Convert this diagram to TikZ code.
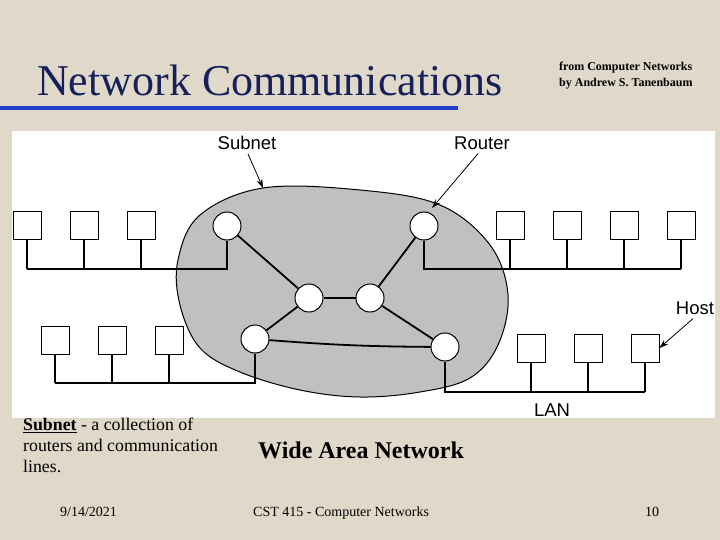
\documentclass[tikz,border=0pt]{standalone}
\usepackage{fontspec}
\setmainfont{Liberation Serif}
\newfontfamily\figfont{Liberation Sans}
\usetikzlibrary{arrows.meta}
\definecolor{slidebg}{RGB}{224,216,201}
\definecolor{titleblue}{RGB}{22,32,90}
\definecolor{ruleblue}{RGB}{32,64,204}
\definecolor{blobgray}{RGB}{192,192,192}
\tikzset{
  host/.style={draw, fill=white, minimum size=28pt, inner sep=0pt, line width=0.8pt},
  router/.style={circle, draw, fill=white, minimum size=28pt, inner sep=0pt, line width=1pt},
  wire/.style={line width=1.8pt},
  figtext/.style={font=\figfont\fontsize{18.5}{18.5}\selectfont, inner sep=0pt},
  pointer/.style={-{Stealth[length=9pt, width=6pt]}, line width=0.8pt}
}
\begin{document}
\begin{tikzpicture}[x=1pt, y=-1pt]
\fill[slidebg] (0,0) rectangle (720,540);
\useasboundingbox (0,0) rectangle (720,540);
% title
\node[anchor=base west, text=titleblue, inner sep=0pt, font=\fontsize{44}{48}\selectfont] (title) at (37,96) {Network Communications};
\fill[ruleblue] (0,106) rectangle (458,110);
\node[anchor=north west, inner sep=0pt, align=left, font=\bfseries\fontsize{12}{16}\selectfont] (source) at (559,62) {from Computer Networks\\by Andrew S. Tanenbaum};
% figure panel
\fill[white] (12,131) rectangle (715,418);
\filldraw[fill=blobgray, line width=1pt] plot[smooth cycle, tension=0.6] coordinates {
  (263,188) (360,190) (440,205) (490,245) (508,295) (498,345) (470,378) (420,392)
  (360,397) (300,390) (240,372) (200,348) (180,305) (178,260) (200,215)};
% routers
\node[router] (ra) at (227,226) {};
\node[router] (rb) at (309,298) {};
\node[router] (rc) at (255,339) {};
\node[router] (rd) at (424,226) {};
\node[router] (re) at (370,298) {};
\node[router] (rf) at (445,347) {};
\draw[wire] (ra) -- (rb);
\draw[wire] (rb) -- (re);
\draw[wire] (re) -- (rd);
\draw[wire] (rb) -- (rc);
\draw[wire] (re) -- (rf);
\draw[wire] (rc) to[bend right=2] (rf);
% LANs
\coordinate (busa) at (27,269);
\coordinate (busb) at (55,383);
\coordinate (busc) at (681,269);
\coordinate (busd) at (645,392);
\foreach \x [count=\i] in {27,84,141} {
  \node[host] (ha\i) at (\x,225) {};
  \draw[wire] (ha\i.south) -- (ha\i |- busa);
}
\foreach \x [count=\i] in {55,112,169} {
  \node[host] (hb\i) at (\x,340) {};
  \draw[wire] (hb\i.south) -- (hb\i |- busb);
}
\foreach \x [count=\i] in {510,567,624,681} {
  \node[host] (hc\i) at (\x,225) {};
  \draw[wire] (hc\i.south) -- (hc\i |- busc);
}
\foreach \x [count=\i] in {531,588,645} {
  \node[host] (hd\i) at (\x,348) {};
  \draw[wire] (hd\i.south) -- (hd\i |- busd);
}
\draw[wire] (ra.south) |- (busa);
\draw[wire] (rc.south) |- (busb);
\draw[wire] (rd.south) |- (busc);
\draw[wire] (rf.south) |- (busd);
% labels
\node[figtext] (subnet) at (247,143) {Subnet};
\node[figtext] (router) at (482,143) {Router};
\node[figtext] (hostlbl) at (695,308) {Host};
\node[figtext] (lan) at (552,410) {LAN};
\coordinate (subnettip) at (263,188);
\coordinate (routertip) at (432,208);
\draw[pointer] (subnet.south) ++(1,4) -- (subnettip);
\draw[pointer] (router.south) ++(-4,4) -- (routertip);
\draw[pointer] (hostlbl.south) ++(-2,4) -- (hd3.east);
% caption
\node[anchor=north west, inner sep=0pt, align=left, font=\fontsize{17.8}{21}\selectfont] (caption) at (23,418) {\textbf{\underline{Subnet}} - a collection of\\routers and communication\\lines.};
\node[anchor=base west, inner sep=0pt, font=\bfseries\fontsize{24}{26}\selectfont] (wan) at (258,458) {Wide Area Network};
% footer
\node[anchor=base west, inner sep=0pt, font=\fontsize{14}{16}\selectfont] (date) at (60,516) {9/14/2021};
\node[anchor=base west, inner sep=0pt, font=\fontsize{14}{16}\selectfont] (course) at (253,516) {CST 415 - Computer Networks};
\node[anchor=base west, inner sep=0pt, font=\fontsize{14}{16}\selectfont] (page) at (645,516) {10};
\end{tikzpicture}
\end{document}
